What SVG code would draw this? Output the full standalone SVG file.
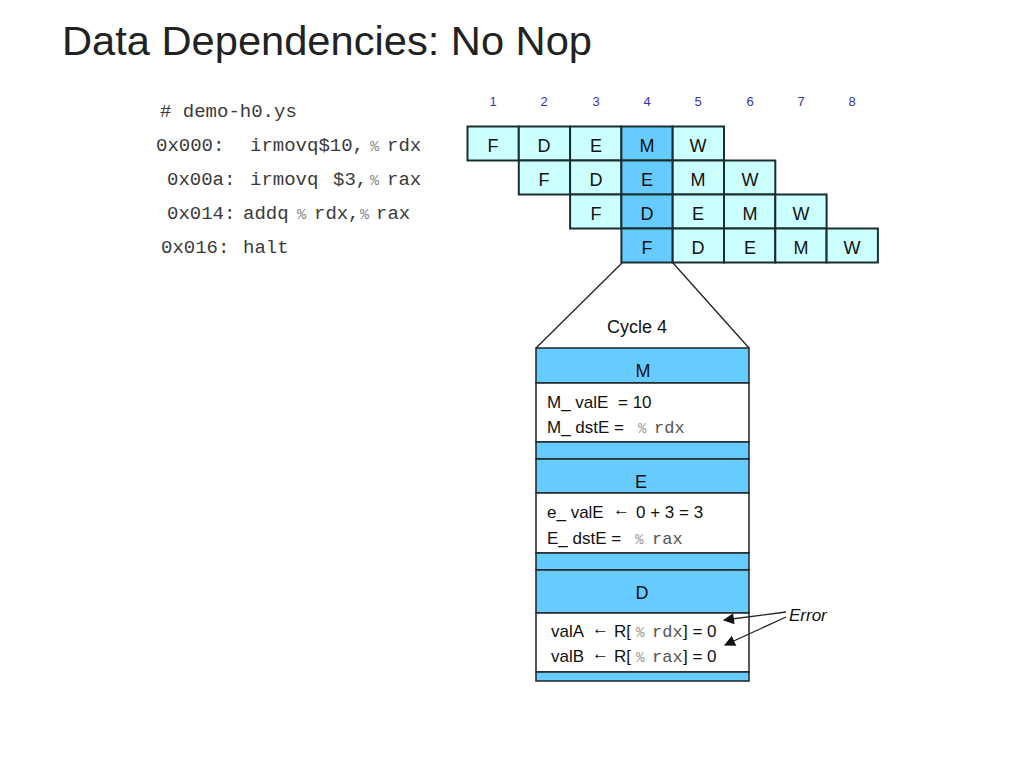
<svg xmlns="http://www.w3.org/2000/svg" width="1024" height="767" viewBox="0 0 1024 767">
<style>
.title{font-family:"Liberation Sans",Arial,sans-serif;font-size:41px;fill:#222}
.code{font-family:"Liberation Mono","Courier New",monospace;font-size:19px;fill:#3a3a3a}
.pct{font-family:"Liberation Mono","Courier New",monospace;font-size:15px;fill:#888}
.num{font-family:"Liberation Sans",Arial,sans-serif;font-size:13px;fill:#3333bb;text-anchor:middle}
.cell{fill:#ccffff;stroke:#1a2e2e;stroke-width:2}
.cur{fill:#66ccff;stroke:#1a2e2e;stroke-width:2}
.lt{font-family:"Liberation Sans",Arial,sans-serif;font-size:18px;fill:#111;text-anchor:middle}
.hdr{fill:#66ccff;stroke:#222;stroke-width:1.5}
.body{fill:#ffffff;stroke:#222;stroke-width:1.5}
.txt{font-family:"Liberation Sans",Arial,sans-serif;font-size:17px;fill:#111}
.mono{font-family:"Liberation Mono","Courier New",monospace;font-size:17px;fill:#555}
.mpct{font-family:"Liberation Mono","Courier New",monospace;font-size:14px;fill:#999}
.line{stroke:#222;stroke-width:1.3;fill:none}
</style>
<defs>
<marker id="ah2" viewBox="0 0 10 10" refX="9" refY="5" markerWidth="13" markerHeight="11" markerUnits="userSpaceOnUse" orient="auto">
<path d="M0,0 L10,5 L0,10 z" fill="#111"/>
</marker>
</defs>
<rect width="1024" height="767" fill="#ffffff"/>
<text id="title" class="title" x="62" y="55" textLength="530" lengthAdjust="spacingAndGlyphs">Data Dependencies: No Nop</text>

<g id="code">
<text class="code" x="160" y="117"># demo-h0.ys</text>
<text class="code" x="156" y="151">0x000:</text>
<text class="code" x="250" y="151">irmovq$10,</text>
<text class="pct" x="370" y="151">%</text>
<text class="code" x="387" y="151">rdx</text>
<text class="code" x="167" y="185">0x00a:</text>
<text class="code" x="250" y="185">irmovq</text>
<text class="code" x="333" y="185">$3,</text>
<text class="pct" x="370" y="185">%</text>
<text class="code" x="387" y="185">rax</text>
<text class="code" x="167" y="219">0x014:</text>
<text class="code" x="243" y="219">addq</text>
<text class="pct" x="297" y="219">%</text>
<text class="code" x="314" y="219">rdx</text>
<text class="code" x="348" y="219">,</text>
<text class="pct" x="360" y="219">%</text>
<text class="code" x="376" y="219">rax</text>
<text class="code" x="161" y="253">0x016:</text>
<text class="code" x="243" y="253">halt</text>
</g>

<g id="cycle-numbers">
<text class="num" x="493" y="106">1</text>
<text class="num" x="544" y="106">2</text>
<text class="num" x="596" y="106">3</text>
<text class="num" x="647" y="106">4</text>
<text class="num" x="698" y="106">5</text>
<text class="num" x="750" y="106">6</text>
<text class="num" x="801" y="106">7</text>
<text class="num" x="852" y="106">8</text>
</g>

<g id="pipeline">
<g id="row1">
<rect class="cell" x="467.5" y="126.5" width="51.3" height="34"/>
<rect class="cell" x="518.8" y="126.5" width="51.3" height="34"/>
<rect class="cell" x="570.1" y="126.5" width="51.3" height="34"/>
<rect class="cur" x="621.4" y="126.5" width="51.3" height="34"/>
<rect class="cell" x="672.7" y="126.5" width="51.3" height="34"/>
<text class="lt" x="493" y="152">F</text>
<text class="lt" x="544" y="152">D</text>
<text class="lt" x="596" y="152">E</text>
<text class="lt" x="647" y="152">M</text>
<text class="lt" x="698" y="152">W</text>
</g>
<g id="row2">
<rect class="cell" x="518.8" y="160.5" width="51.3" height="34"/>
<rect class="cell" x="570.1" y="160.5" width="51.3" height="34"/>
<rect class="cur" x="621.4" y="160.5" width="51.3" height="34"/>
<rect class="cell" x="672.7" y="160.5" width="51.3" height="34"/>
<rect class="cell" x="724" y="160.5" width="51.3" height="34"/>
<text class="lt" x="544" y="186">F</text>
<text class="lt" x="596" y="186">D</text>
<text class="lt" x="647" y="186">E</text>
<text class="lt" x="698" y="186">M</text>
<text class="lt" x="750" y="186">W</text>
</g>
<g id="row3">
<rect class="cell" x="570.1" y="194.5" width="51.3" height="34"/>
<rect class="cur" x="621.4" y="194.5" width="51.3" height="34"/>
<rect class="cell" x="672.7" y="194.5" width="51.3" height="34"/>
<rect class="cell" x="724" y="194.5" width="51.3" height="34"/>
<rect class="cell" x="775.3" y="194.5" width="51.3" height="34"/>
<text class="lt" x="596" y="220">F</text>
<text class="lt" x="647" y="220">D</text>
<text class="lt" x="698" y="220">E</text>
<text class="lt" x="750" y="220">M</text>
<text class="lt" x="801" y="220">W</text>
</g>
<g id="row4">
<rect class="cur" x="621.4" y="228.5" width="51.3" height="34"/>
<rect class="cell" x="672.7" y="228.5" width="51.3" height="34"/>
<rect class="cell" x="724" y="228.5" width="51.3" height="34"/>
<rect class="cell" x="775.3" y="228.5" width="51.3" height="34"/>
<rect class="cell" x="826.6" y="228.5" width="51.3" height="34"/>
<text class="lt" x="647" y="254">F</text>
<text class="lt" x="698" y="254">D</text>
<text class="lt" x="750" y="254">E</text>
<text class="lt" x="801" y="254">M</text>
<text class="lt" x="852" y="254">W</text>
</g>
</g>

<g id="cycle4">
<text class="lt" x="637" y="333">Cycle 4</text>
</g>

<g id="stage-M">
<rect class="hdr" x="536" y="348" width="213" height="35"/>
<rect class="body" x="536" y="383" width="213" height="59"/>
<rect class="hdr" x="536" y="442" width="213" height="17"/>
<text class="lt" x="643" y="377">M</text>
<text class="txt" x="547" y="408">M_ valE</text>
<text class="txt" x="618" y="408">= 10</text>
<text class="txt" x="547" y="433">M_ dstE =</text>
<text class="mpct" x="638" y="433">%</text>
<text class="mono" x="654" y="433">rdx</text>
</g>

<g id="stage-E">
<rect class="hdr" x="536" y="459" width="213" height="34"/>
<rect class="body" x="536" y="493" width="213" height="60"/>
<rect class="hdr" x="536" y="553" width="213" height="17"/>
<text class="lt" x="641" y="488">E</text>
<text class="txt" x="547" y="518">e_ valE</text>
<text class="txt" x="613" y="515" font-size="13">&#8592;</text>
<text class="txt" x="636" y="518">0 + 3 = 3</text>
<text class="txt" x="547" y="544">E_ dstE =</text>
<text class="mpct" x="635" y="544">%</text>
<text class="mono" x="652" y="544">rax</text>
</g>

<g id="stage-D">
<rect class="hdr" x="536" y="570" width="213" height="43"/>
<rect class="body" x="536" y="613" width="213" height="59"/>
<rect class="hdr" x="536" y="672" width="213" height="9"/>
<text class="lt" x="642" y="599">D</text>
<text class="txt" x="551" y="637">valA</text>
<text class="txt" x="592" y="634" font-size="13">&#8592;</text>
<text class="txt" x="614" y="637">R[</text>
<text class="mpct" x="636" y="637">%</text>
<text class="mono" x="652" y="637">rdx</text>
<text class="txt" x="683" y="637">] = 0</text>
<text class="txt" x="551" y="662">valB</text>
<text class="txt" x="592" y="659" font-size="13">&#8592;</text>
<text class="txt" x="614" y="662">R[</text>
<text class="mpct" x="636" y="662">%</text>
<text class="mono" x="652" y="662">rax</text>
<text class="txt" x="683" y="662">] = 0</text>
</g>

<g id="error-label">
<text class="txt" x="789" y="621" font-style="italic">Error</text>
</g>

<g id="connectors">
<line class="line" x1="622" y1="263" x2="536" y2="348"/>
<line class="line" x1="673" y1="263" x2="749" y2="348"/>
<line class="line" x1="786" y1="612" x2="724" y2="620" marker-end="url(#ah2)"/>
<line class="line" x1="786" y1="617" x2="725" y2="645" marker-end="url(#ah2)"/>
</g>
</svg>
